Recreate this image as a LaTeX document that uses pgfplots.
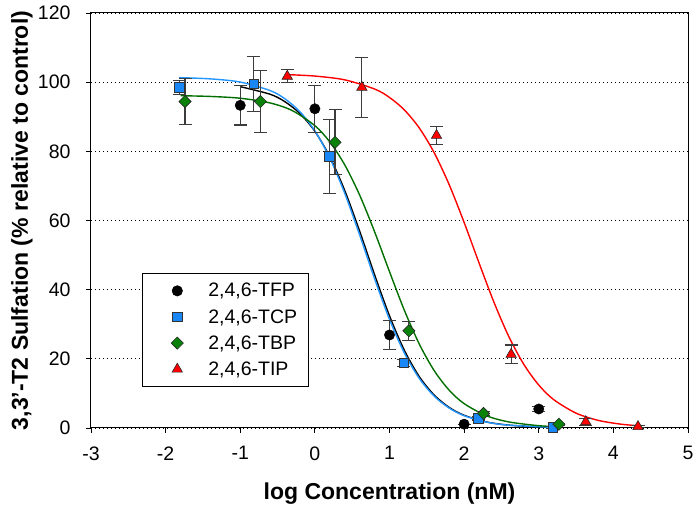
\documentclass[border=0pt]{standalone}
\usepackage{pgfplots}
\pgfplotsset{compat=1.18}
\usepackage{fontspec}
\setmainfont{Liberation Sans}
\definecolor{mblue}{RGB}{25,135,245}
\definecolor{cblue}{RGB}{35,150,255}
\definecolor{mgreen}{RGB}{10,130,10}
\definecolor{cgreen}{RGB}{0,110,0}
\definecolor{ebar}{RGB}{60,60,60}
\pgfplotsset{eb/.style={error bars/.cd, y dir=both, y explicit,
  error bar style={ebar, line width=1.1pt},
  error mark options={rotate=90, mark size=6.5pt, ebar, line width=1.1pt}}}
\begin{document}
\begin{tikzpicture}
\useasboundingbox (-91pt,-85pt) rectangle (608pt,428pt);
\begin{axis}[
  scale only axis, width=597pt, height=415pt,
  xmin=-3, xmax=5, ymin=0, ymax=120,
  xtick={-3,-2,...,5}, ytick={0,20,...,120},
  tick pos=left, tick align=outside, major tick length=5pt,
  tick style={black, line width=0.9pt},
  axis line style={black, line width=1pt},
  /pgf/number format/assume math mode=true,
  tick label style={font=\fontsize{19.5}{21}\selectfont},
  xticklabel style={yshift=-10pt},
  yticklabel style={xshift=-12pt},
  ymajorgrids, grid style={black, line width=0.7pt, dash pattern=on 0.8pt off 3.2pt},
  xlabel={log Concentration (nM)},
  ylabel={3,3'-T2 Sulfation (\% relative to control)},
  label style={font=\fontsize{23}{25}\selectfont\bfseries},
  xlabel style={at={(axis description cs:0.5,-0.157)}, anchor=center},
  ylabel style={at={(axis description cs:-0.1156,0.5)}, anchor=center},
  clip=false,
  legend image code/.code={\path[draw=none,fill=none] (0pt,-2pt) rectangle (55pt,2pt); \draw[mark repeat=2,mark phase=2,#1] plot coordinates {(0pt,0pt) (26pt,0pt) (52pt,0pt)};},
  legend style={at={(axis description cs:0.0854,0.3735)}, anchor=north west,
    draw=black, line width=0.6pt, font=\fontsize{19.5}{21}\selectfont,
    inner xsep=9pt, inner ysep=8pt, row sep=7pt},
  legend cell align=left,
]
% fitted curves
\addplot[black, line width=1.4pt, smooth, forget plot] coordinates {
(-1.0,98.70) (-0.6,96.51) (-0.4,94.33) (-0.2,90.93) (0.0,85.79) (0.2,78.44) (0.4,68.68) (0.6,56.92) (0.8,44.33) (1.0,32.43) (1.2,22.43) (1.4,14.83) (1.6,9.50) (1.8,5.95) (2.0,3.67) (2.3,1.75) (2.6,0.83) (3.0,0.30)};
\addplot[cblue, line width=1.4pt, smooth, forget plot] coordinates {
(-1.82,101.31) (-1.4,100.95) (-1.0,100.03) (-0.6,97.57) (-0.4,95.17) (-0.2,91.45) (0.0,85.91) (0.2,78.08) (0.4,67.87) (0.6,55.81) (0.8,43.16) (1.0,31.39) (1.2,21.64) (1.4,14.31) (1.6,9.17) (1.8,5.76) (2.0,3.56) (2.3,1.71) (2.6,0.81) (3.2,0.18)};
\addplot[cgreen, line width=1.4pt, smooth, forget plot] coordinates {
(-1.8,96.08) (-1.4,95.87) (-1.0,95.35) (-0.6,93.99) (-0.3,91.74) (0.0,87.42) (0.2,82.72) (0.4,76.09) (0.6,67.35) (0.8,56.76) (1.0,45.21) (1.2,33.99) (1.4,24.24) (1.6,16.55) (1.8,10.92) (2.0,7.04) (2.3,3.54) (2.6,1.75) (3.0,0.67) (3.3,0.33)};
\addplot[red, line width=1.4pt, smooth, forget plot] coordinates {
(-0.37,102.18) (0.0,101.76) (0.4,100.67) (0.8,98.02) (1.0,95.58) (1.2,91.95) (1.4,86.72) (1.6,79.55) (1.8,70.35) (2.0,59.44) (2.2,47.72) (2.4,36.35) (2.6,26.39) (2.8,18.40) (3.0,12.43) (3.2,8.21) (3.5,4.29) (3.8,2.19) (4.1,1.11) (4.33,0.66)};
% data points
\addplot[only marks, mark=*, mark size=5.2pt, mark options={fill=black, draw=black}, eb] coordinates {
(-1.0,93.3) +- (0,5.7)
(0.0,92.3) +- (0,6.8)
(1.0,26.9) +- (0,4.2)
(2.0,1.1) +- (0,0)
(3.0,5.5) +- (0,0.8)};
\addlegendentry{2,4,6-TFP}
\addplot[only marks, mark=square*, mark size=4.8pt, mark options={fill=mblue, draw=black!80, line width=0.6pt}, eb] coordinates {
(-1.82,98.5) +- (0,2.0)
(-0.82,99.5) +- (0,8.0)
(0.19,78.5) +- (0,10.6)
(1.19,18.9) +- (0,1.0)
(2.19,2.8) +- (0,0.5)
(3.19,0.2) +- (0,0.3)};
\addlegendentry{2,4,6-TCP}
\addplot[only marks, mark=square*, mark size=4.3pt, mark options={rotate=45, fill=mgreen, draw=black!85, line width=0.6pt}, eb] coordinates {
(-1.74,94.4) +- (0,6.7)
(-0.73,94.4) +- (0,9.0)
(0.27,82.6) +- (0,9.4)
(1.26,28.1) +- (0,2.7)
(2.26,4.2) +- (0,0.5)
(3.27,1.1) +- (0,0.3)};
\addlegendentry{2,4,6-TBP}
\addplot[only marks, mark=triangle*, mark size=6pt, mark options={fill=red, draw=black!85, line width=0.6pt}, eb] coordinates {
(-0.37,101.7) +- (0,1.9)
(0.63,98.5) +- (0,8.7)
(1.63,84.6) +- (0,2.6)
(2.63,21.3) +- (0,2.7)
(3.63,1.8) +- (0,1.0)
(4.33,0.4) +- (0,0.3)};
\addlegendentry{2,4,6-TIP}
\end{axis}
\end{tikzpicture}
\end{document}
